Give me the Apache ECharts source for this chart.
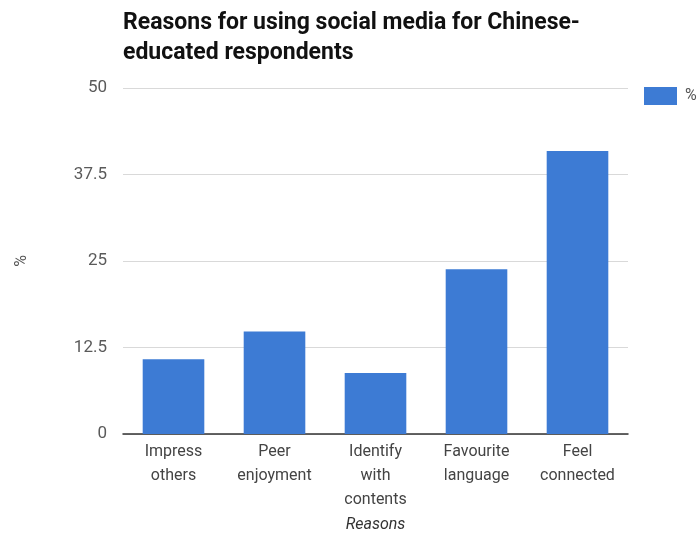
<!DOCTYPE html>
<html>
<head>
<meta charset="utf-8">
<script src="https://cdn.jsdelivr.net/npm/echarts@6/dist/echarts.min.js"></script>
<style>
html,body{margin:0;padding:0;background:#fff;}
#main{width:699px;height:538px;}
</style>
</head>
<body>
<div id="main"></div>
<script>
const categories = ["Impress\nothers", "Peer\nenjoyment", "Identify\nwith\ncontents", "Favourite\nlanguage", "Feel\nconnected"];
const values = [10.8, 14.8, 8.8, 23.8, 40.9];
const yTicks = [0, 12.5, 25, 37.5, 50];
const seriesName = "%";
const titleText = "Reasons for using social media for Chinese-\neducated respondents";

const chart = echarts.init(document.getElementById('main'));
chart.setOption({
  animation: false,
  backgroundColor: '#fff',
  title: {
    text: titleText,
    left: 118,
    top: 3,
    textStyle: {
      fontFamily: 'Roboto, Arial, sans-serif',
      fontWeight: 'bold',
      fontSize: 23,
      color: '#111',
      lineHeight: 30
    }
  },
  legend: {
    data: [seriesName],
    left: 644,
    top: 87,
    padding: 0,
    itemWidth: 33,
    itemHeight: 18,
    itemGap: 5,
    icon: 'rect',
    textStyle: { fontFamily: 'Roboto, Arial, sans-serif', fontSize: 16, color: '#555', padding: [0, 0, 0, 3] }
  },
  grid: { left: 123, right: 71, top: 88, bottom: 104, containLabel: false, outerBoundsMode: 'none' },
  xAxis: {
    type: 'category',
    data: categories,
    name: 'Reasons',
    nameLocation: 'middle',
    nameGap: 82,
    nameTextStyle: { fontFamily: 'Roboto, Arial, sans-serif', fontSize: 16, fontStyle: 'italic', color: '#333' },
    axisLine: { lineStyle: { color: '#333', width: 1.5 } },
    axisTick: { show: false },
    axisLabel: {
      interval: 0,
      margin: 6,
      fontFamily: 'Roboto, Arial, sans-serif',
      fontSize: 16,
      lineHeight: 24,
      color: '#444'
    }
  },
  yAxis: {
    type: 'value',
    min: yTicks[0],
    max: yTicks[yTicks.length - 1],
    interval: yTicks[1] - yTicks[0],
    name: '%',
    nameLocation: 'middle',
    nameGap: 93,
    nameRotate: 90,
    nameTextStyle: { fontFamily: 'Roboto, Arial, sans-serif', fontSize: 16, color: '#555' },
    axisLine: { show: false },
    axisTick: { show: false },
    axisLabel: {
      margin: 16,
      fontFamily: 'Roboto, Arial, sans-serif',
      fontSize: 17,
      color: '#5a5a5a'
    },
    splitLine: { lineStyle: { color: '#d9d9d9', width: 1 } }
  },
  series: [{
    name: seriesName,
    type: 'bar',
    data: values,
    barCategoryGap: '39%',
    itemStyle: { color: '#3d7bd4' }
  }]
});
</script>
</body>
</html>
